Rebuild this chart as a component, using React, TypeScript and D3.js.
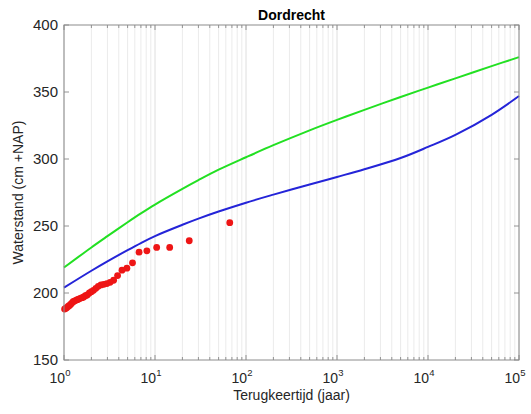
import React from 'react';
import * as d3 from 'd3';

const WIDTH = 531;
const HEIGHT = 414;
const MARGIN = { top: 25, right: 12, bottom: 54, left: 64 };

// return periods (years) for the two model curves
const curveT = [1, 2, 3, 5, 7, 10, 20, 30, 50, 100, 200, 500, 1000, 2000, 5000, 10000, 20000, 50000, 100000];
const greenLevels = [219, 234, 242.4, 252.8, 259.4, 266, 277.7, 284.2, 292, 301.3, 310.3, 321.4, 329.2, 336.7, 346.3, 353.3, 360.2, 369.3, 376];
const blueLevels = [204, 216.6, 223.6, 232, 237.3, 242.5, 250.9, 255.5, 260.8, 267.4, 273.4, 281, 286.6, 292.3, 300.7, 309, 318, 333, 347];

// observed annual maxima (plotting positions)
const obsT = [66.29, 23.79, 14.5, 10.43, 8.14, 6.68, 5.66, 4.91, 4.34, 3.88, 3.51, 3.21, 2.96, 2.74, 2.55, 2.38, 2.24, 2.11, 2.0, 1.9, 1.8, 1.72, 1.65, 1.58, 1.51, 1.45, 1.4, 1.35, 1.3, 1.26, 1.22, 1.18, 1.14, 1.11, 1.07, 1.04, 1.015];
const obsLevels = [252.5, 239, 234, 234, 231.5, 230.5, 222.5, 218.5, 217, 213, 209.5, 208, 207, 206.5, 206, 205, 203.5, 202, 201, 200, 198.5, 198, 197, 196.5, 196, 195.5, 195, 194.5, 194, 193.5, 192.5, 191.5, 190.5, 190, 189, 188.5, 188];

const yTicks = [150, 200, 250, 300, 350, 400];
const xDecades = [0, 1, 2, 3, 4, 5];

const FONT = '"Liberation Sans", Arial, sans-serif';
const TEXT = '#262626';

const App = () => {
    const left = MARGIN.left;
    const right = WIDTH - MARGIN.right;
    const top = MARGIN.top;
    const bottom = HEIGHT - MARGIN.bottom;

    const x = d3.scaleLog().domain([1, 1e5]).range([left, right]);
    const y = d3.scaleLinear().domain([150, 400]).range([bottom, top]);

    const makePath = (levels: number[]) =>
        d3.line<number>()
            .x((_, i) => x(curveT[i]))
            .y((v) => y(v))
            .curve(d3.curveCatmullRom.alpha(0.5))(levels) || '';

    // all minor + major ticks on the log axis
    const logTicks: { v: number; major: boolean }[] = [];
    xDecades.forEach((e) => {
        const base = Math.pow(10, e);
        logTicks.push({ v: base, major: true });
        if (e < 5) {
            for (let k = 2; k <= 9; k++) logTicks.push({ v: base * k, major: false });
        }
    });

    return (
        <svg width={WIDTH} height={HEIGHT} style={{ position: 'absolute', left: 0, top: 0, background: '#fff' }}>
            <rect x={0} y={0} width={WIDTH} height={HEIGHT} fill="#fff" />

            {/* vertical grid */}
            {logTicks.map((t, i) =>
                <line key={'g' + i} x1={x(t.v)} x2={x(t.v)} y1={top} y2={bottom}
                    stroke={t.major ? '#dedede' : '#ebebeb'} strokeWidth={1} />
            )}

            {/* ticks */}
            {logTicks.map((t, i) => {
                const len = t.major ? 5 : 3;
                return (
                    <g key={'t' + i} stroke="#7a7a7a" strokeWidth={0.8}>
                        <line x1={x(t.v)} x2={x(t.v)} y1={bottom} y2={bottom - len} />
                        <line x1={x(t.v)} x2={x(t.v)} y1={top} y2={top + len} />
                    </g>
                );
            })}
            {yTicks.map((t) =>
                <g key={'yt' + t} stroke="#7a7a7a" strokeWidth={0.8}>
                    <line x1={left} x2={left + 5} y1={y(t)} y2={y(t)} />
                    <line x1={right} x2={right - 5} y1={y(t)} y2={y(t)} />
                </g>
            )}

            {/* curves */}
            <path d={makePath(greenLevels)} fill="none" stroke="#22e022" strokeWidth={2} />
            <path d={makePath(blueLevels)} fill="none" stroke="#2424d8" strokeWidth={2} />

            {/* observations */}
            {obsT.map((t, i) =>
                <circle key={'o' + i} cx={x(t)} cy={y(obsLevels[i])} r={3.4} fill="#ee1515" />
            )}

            {/* box */}
            <rect x={left} y={top} width={right - left} height={bottom - top}
                fill="none" stroke="#8c8c8c" strokeWidth={1} />

            {/* y tick labels */}
            {yTicks.map((t) =>
                <text key={'yl' + t} x={left - 6} y={y(t)} dy="0.35em" textAnchor="end"
                    fontFamily={FONT} fontSize={15} fill={TEXT}>{t}</text>
            )}

            {/* x tick labels */}
            {xDecades.map((e) =>
                <text key={'xl' + e} x={x(Math.pow(10, e)) - 4} y={bottom + 23} textAnchor="middle"
                    fontFamily={FONT} fontSize={14} fill={TEXT}>
                    10<tspan dy={-7} fontSize={9.5}>{e}</tspan>
                </text>
            )}

            {/* axis labels and title */}
            <text x={(left + right) / 2} y={bottom + 40} textAnchor="middle"
                fontFamily={FONT} fontSize={14} fill={TEXT}>Terugkeertijd (jaar)</text>
            <text transform={`translate(23, ${(top + bottom) / 2}) rotate(-90)`} textAnchor="middle"
                fontFamily={FONT} fontSize={14} fill={TEXT}>Waterstand (cm +NAP)</text>
            <text x={(left + right) / 2} y={20} textAnchor="middle"
                fontFamily={FONT} fontSize={14} fontWeight="bold" fill="#000">Dordrecht</text>
        </svg>
    );
};

export default App;
